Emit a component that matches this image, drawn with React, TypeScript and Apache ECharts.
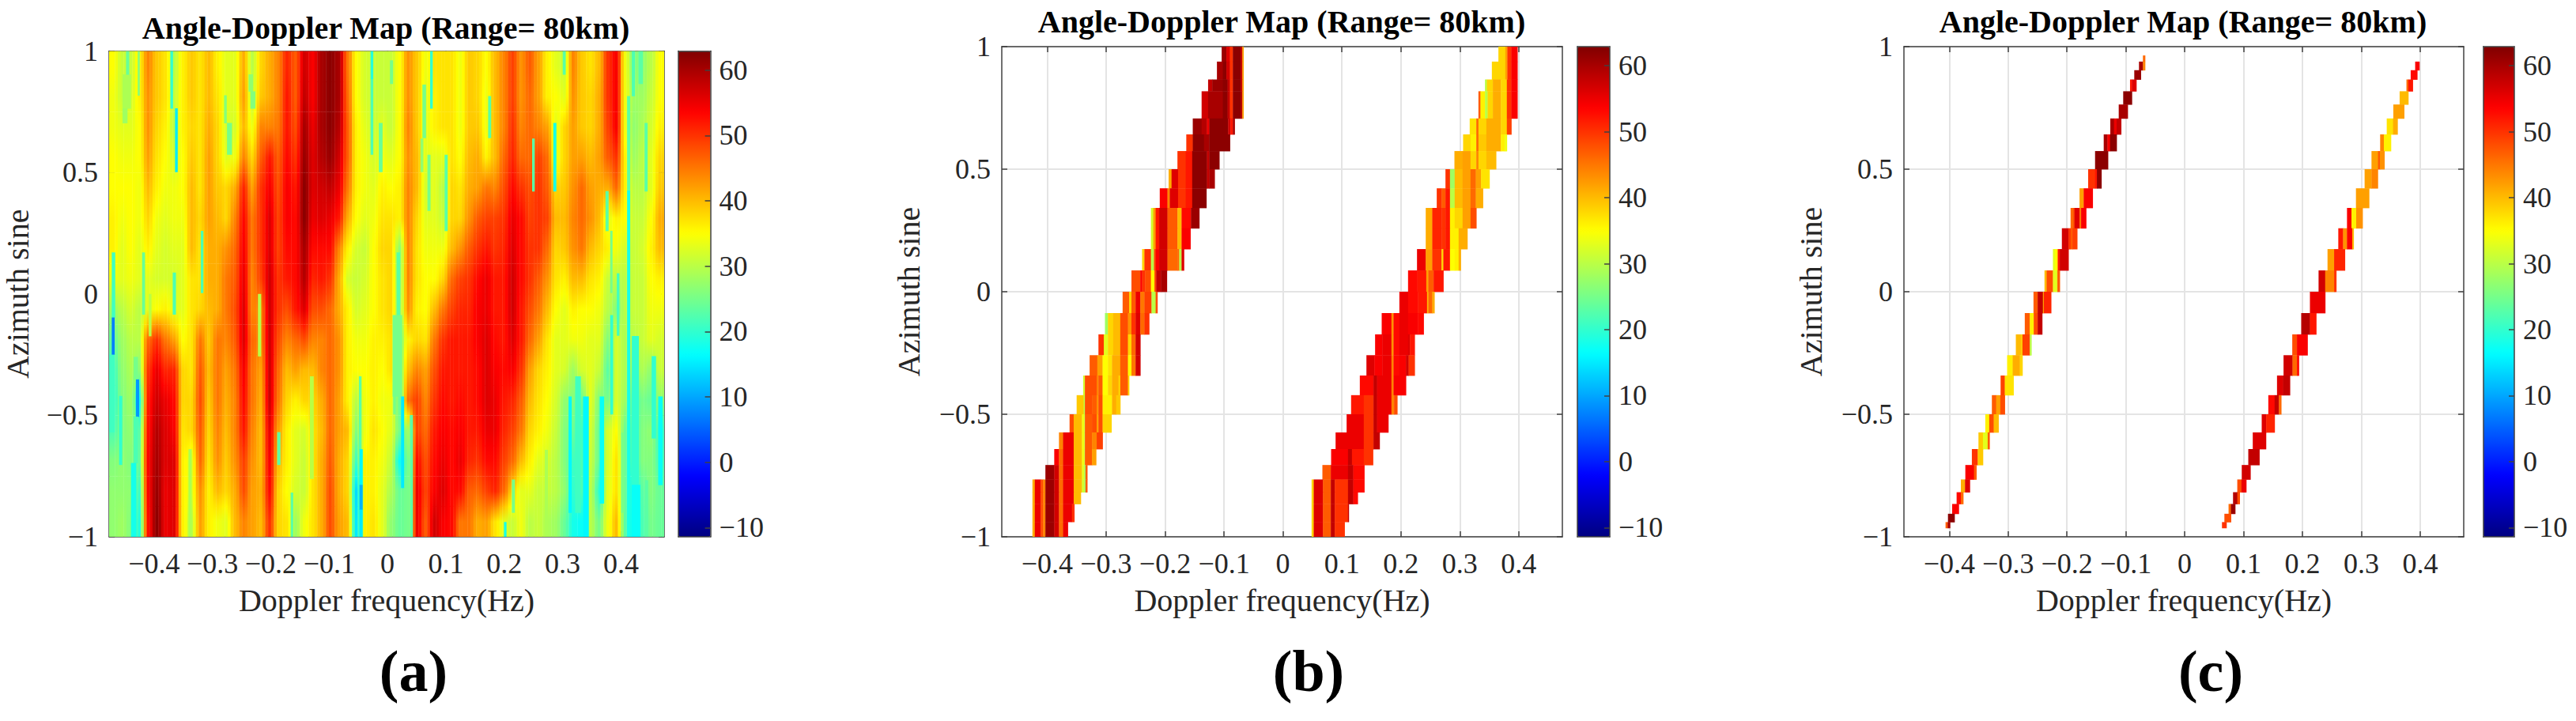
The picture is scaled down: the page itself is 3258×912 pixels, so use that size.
import React, { useEffect, useRef } from "react";
import * as echarts from "echarts";

const FONT = "'Liberation Serif', 'Times New Roman', serif";
const TITLE = "Angle-Doppler Map (Range= 80km)";
const X_NAME = "Doppler frequency(Hz)";
const Y_NAME = "Azimuth sine";
const xTicks = [-0.4, -0.3, -0.2, -0.1, 0, 0.1, 0.2, 0.3, 0.4];
const barTicks = [-10, 0, 10, 20, 30, 40, 50, 60];
const X_MIN = -0.477;
const X_MAX = 0.474;
const V_MIN = -11.4;
const V_MAX = 62.9;
const jet = ["#000080", "#0000ff", "#0080ff", "#00ffff", "#80ff80", "#ffff00", "#ff8000", "#ff0000", "#800000"];

// Panel (a): dB levels, rows from sine = 1 down to sine = -1, columns from low to high Doppler
const panelARows = [
  [35,31,31,36,44,39,37,30,36,39,37,40,36,33,33,41,30,38,41,44,51,47,57,54,60,62,60,45,35,32,31,31, 31,35,43,39,34,37,37,37,34,39,38,35,40,44,49,43,47,42,36,33,31,44,39,37,40,50,54,34,26,27,30,35],
  [34,31,32,36,43,39,37,31,36,39,37,40,37,33,33,42,31,39,41,44,52,47,58,54,60,62,60,46,35,32,31,31, 31,35,43,39,33,36,37,37,34,39,38,34,40,44,49,43,46,42,36,35,33,43,39,38,41,50,54,34,28,28,31,35],
  [34,33,33,35,43,38,36,30,36,38,37,41,38,32,32,40,34,44,44,45,52,48,60,55,60,62,59,47,36,33,31,33, 31,35,44,39,33,36,37,37,34,39,39,34,40,44,50,44,46,44,42,33,38,42,39,38,41,49,54,34,27,29,32,36],
  [35,34,34,35,42,37,35,32,35,39,37,42,38,33,34,44,38,47,52,47,53,50,61,56,59,61,57,47,36,34,32,34, 33,35,43,40,33,33,33,37,35,40,41,36,40,46,51,46,46,49,46,33,38,42,42,40,42,47,50,36,28,30,33,38],
  [35,35,35,34,40,36,34,34,35,40,37,42,39,38,41,51,42,50,54,48,54,52,62,56,57,58,55,45,36,34,33,36, 35,36,44,40,32,33,30,38,37,41,42,45,44,48,53,50,48,50,47,38,39,43,46,42,41,41,46,36,30,30,33,39],
  [36,34,35,34,38,34,33,34,34,40,38,42,40,38,44,53,45,50,56,49,54,53,62,55,56,55,52,41,35,33,34,37, 37,36,44,38,33,33,31,38,38,43,47,49,49,50,55,53,49,50,49,40,40,44,46,43,40,33,36,35,31,31,35,41],
  [36,33,35,33,36,33,32,33,33,40,37,41,41,43,46,54,45,50,56,49,53,53,60,53,53,53,44,36,32,31,35,38, 38,27,44,37,34,34,34,40,43,47,50,52,50,51,56,53,50,50,46,38,39,43,45,40,38,36,34,32,31,32,36,40],
  [34,33,34,33,33,32,32,32,33,37,37,41,41,45,47,55,44,49,57,50,52,53,59,51,52,50,41,32,31,32,35,37, 38,27,44,37,35,35,38,46,49,50,53,55,52,52,57,53,50,47,43,37,36,40,40,37,36,31,30,30,31,31,35,36],
  [28,30,32,30,33,35,36,33,33,37,38,40,41,45,48,56,44,44,57,50,48,52,56,48,48,46,41,36,32,33,35,37, 38,28,43,36,35,40,45,49,51,51,54,55,52,52,57,52,48,45,40,35,33,36,35,35,34,30,26,30,31,31,34,34],
  [24,28,30,30,46,50,45,42,35,37,45,39,45,44,47,56,46,44,57,48,44,46,48,44,44,46,43,36,34,34,36,36, 37,26,36,38,37,45,50,52,52,52,54,56,53,52,56,52,46,42,37,33,33,34,34,33,33,26,32,29,30,31,33,32],
  [21,27,29,27,50,55,51,51,38,37,47,40,45,42,45,54,45,42,57,46,40,42,40,40,44,46,43,36,35,35,36,35, 37,27,40,44,42,48,52,52,52,52,53,56,54,53,54,50,42,38,36,33,32,28,32,33,31,23,32,29,27,29,27,31],
  [20,26,28,18,52,57,55,53,38,38,48,39,45,41,44,53,45,41,57,45,38,36,38,38,41,46,42,36,30,34,36,34, 34,24,46,49,44,50,53,52,53,52,53,56,55,52,51,47,40,37,35,32,27,26,24,33,26,25,32,28,22,25,24,27],
  [22,26,27,23,53,59,56,54,37,38,47,38,44,40,44,52,44,40,55,42,36,33,32,37,40,46,42,40,26,34,37,35, 33,25,28,49,46,52,54,53,54,52,52,55,55,51,49,45,38,36,34,31,26,24,21,32,24,32,35,24,21,26,27,21],
  [26,27,26,24,54,60,56,56,36,33,46,37,43,39,43,49,43,40,54,40,36,33,31,37,41,47,41,38,21,36,36,34, 31,17,25,53,48,53,55,53,55,51,50,53,53,49,46,40,36,33,32,30,26,21,22,31,24,32,37,24,20,26,26,22],
  [27,27,27,21,54,61,55,56,36,33,43,36,40,38,41,48,42,41,53,38,35,32,31,37,41,48,41,38,14,36,36,33, 29,24,25,55,49,54,56,53,53,47,46,49,51,46,38,33,33,31,31,30,27,20,22,30,20,33,37,24,17,23,26,24],
  [27,28,26,19,53,62,55,56,36,30,42,36,34,33,40,44,42,40,50,38,37,28,34,37,41,48,42,40,15,36,37,33, 27,24,25,55,47,57,54,53,45,45,41,42,37,33,31,34,30,31,29,28,24,18,17,30,25,34,40,23,16,22,25,24],
];

// Panel (a): narrow dips [fromHz, toHz, sineTop, sineBottom, dB]
const panelADips = [
  [-0.454,-0.440,0.904,0.764,29],[-0.454,-0.446,0.764,0.704,28],[-0.448,-0.443,1,0.904,24],[-0.428,-0.425,1,0.818,26],
  [-0.372,-0.368,1,0.764,20],[-0.364,-0.360,0.764,0.503,15],[-0.280,-0.276,0.818,0.704,26],[-0.275,-0.267,0.704,0.574,25],
  [-0.238,-0.231,0.904,0.834,27],[-0.235,-0.227,0.834,0.764,26],[-0.029,-0.025,1,0.885,19],[-0.029,-0.025,0.885,0.574,22],
  [-0.015,-0.009,0.704,0.503,24],[-0.320,-0.316,0.26,0.005,22],[-0.4725,-0.467,0.171,-0.097,21],[-0.4725,-0.468,-0.097,-0.25,7],
  [-0.477,-0.468,-0.25,-0.569,21],[-0.4205,-0.416,0.171,-0.084,24],[-0.409,-0.405,0,-0.173,30],[-0.368,-0.363,0.088,-0.084,22],
  [-0.435,-0.428,-0.259,-0.352,25],[-0.431,-0.426,-0.352,-0.505,9],[-0.435,-0.428,-0.505,-0.696,22],[-0.460,-0.455,-0.42,-0.703,20],
  [-0.4395,-0.431,-0.696,-1,18],[-0.341,-0.336,-0.639,-1,29],[-0.222,-0.217,0,-0.256,30],[-0.189,-0.184,-0.569,-0.703,23],
  [-0.133,-0.127,-0.339,-0.76,30],[-0.166,-0.162,-0.818,-1,23],[-0.049,-0.045,-0.339,-0.639,23],[-0.048,-0.043,-0.639,-0.786,16],
  [-0.048,-0.043,-0.786,-0.888,11],[-0.048,-0.043,-0.888,-1,15],
  [0.0042,0.009,0.962,0.866,25],[0.073,0.077,1,0.764,20],[0.0598,0.0655,0.862,0.643,25],[0.0565,0.061,0.64,0.503,27],
  [0.0684,0.0732,0.573,0.343,25],[0.0978,0.1026,0.573,0.26,23],[0.1724,0.1771,0.815,0.643,23],[0.2478,0.2517,0.64,0.423,23],
  [0.284,0.2888,0.704,0.423,18],[0.3002,0.3047,1,0.904,23],[0.3735,0.3783,0.423,0.26,23],[0.3816,0.385,0.26,0.005,25],
  [0.3929,0.3968,0.085,-0.171,21],[0.4105,0.4153,0.815,0.426,23],[0.4105,0.4153,0.426,-1,18],[0.4186,0.4234,1,0.815,22],
  [0.430,0.437,1,0.866,23],[0.4404,0.4451,0.704,0.423,23],[0.0156,0.0212,0.171,-0.087,23],[0.0087,0.0245,-0.087,-0.422,25],
  [0.0097,0.0136,-0.339,-0.495,25],[0.0232,0.028,-0.422,-0.798,15],[0.0382,0.043,-0.499,-1,23],[0.213,0.2178,-0.764,-0.9,25],
  [0.1995,0.2034,-0.939,-1,18],[0.2695,0.2743,-0.642,-1,29],[0.3102,0.315,-0.422,-0.9,16],[0.3215,0.3308,-0.339,-0.9,21],
  [0.335,0.3443,-0.422,-1,16],[0.3635,0.3706,-0.422,-0.862,17],[0.3816,0.386,-0.087,-0.495,20],[0.4006,0.4054,-0.571,-0.9,25],
  [0.4186,0.4302,-0.173,-0.786,20],[0.4186,0.4325,-0.786,-1,17],[0.4412,0.446,-0.767,-1,23],[0.4525,0.4596,-0.256,-0.594,20],
  [0.4638,0.4709,-0.422,-0.786,17],
];

// Panel (b): row edges in sine, top to bottom
const panelBEdges = [1,0.939,0.866,0.818,0.707,0.642,0.574,0.5,0.422,0.342,0.259,0.174,0.087,0,-0.087,-0.174,-0.259,-0.342,-0.422,-0.5,-0.574,-0.642,-0.707,-0.766,-0.818,-0.866,-0.939,-1];

// Each row: Hz edge, dB, Hz edge, dB, ..., final Hz edge
const panelBLeft = [
  [-0.104,61,-0.096,56,-0.090,50,-0.085,62,-0.072,58,-0.069,42,-0.067],
  [-0.112,60,-0.102,62,-0.096,57,-0.090,50,-0.085,62,-0.072,58,-0.069,42,-0.067],
  [-0.127,58,-0.120,61,-0.102,62,-0.094,58,-0.090,50,-0.085,62,-0.072,58,-0.069,42,-0.067],
  [-0.138,57,-0.127,60,-0.102,62,-0.094,58,-0.090,50,-0.085,62,-0.072,59,-0.069,42,-0.067],
  [-0.153,61,-0.138,59,-0.129,55,-0.125,62,-0.102,62,-0.093,57,-0.089,52,-0.085,60,-0.082],
  [-0.164,50,-0.153,62,-0.134,60,-0.125,62,-0.090],
  [-0.179,50,-0.165,52,-0.154,62,-0.129,58,-0.125,62,-0.108],
  [-0.194,41,-0.189,56,-0.178,50,-0.165,52,-0.154,62,-0.129,58,-0.125,60,-0.116],
  [-0.209,54,-0.196,44,-0.192,56,-0.178,50,-0.165,52,-0.154,62,-0.130],
  [-0.224,32,-0.220,42,-0.216,52,-0.210,57,-0.196,47,-0.179,40,-0.172,53,-0.156,61,-0.142],
  [-0.224,32,-0.220,42,-0.216,52,-0.210,57,-0.196,47,-0.179,40,-0.172,54,-0.157],
  [-0.239,38,-0.235,50,-0.224,30,-0.219,48,-0.216,54,-0.210,57,-0.196,46,-0.179,46,-0.176,30,-0.172,56,-0.168],
  [-0.257,48,-0.242,54,-0.239,50,-0.234,48,-0.224,35,-0.218,49,-0.215,58,-0.207,60,-0.197],
  [-0.272,47,-0.261,38,-0.257,47,-0.250,55,-0.242,45,-0.235,49,-0.223,30,-0.216,48,-0.213],
  [-0.302,28,-0.297,38,-0.288,40,-0.276,48,-0.263,43,-0.257,50,-0.250,56,-0.242,46,-0.235,50,-0.227],
  [-0.313,50,-0.304,33,-0.297,38,-0.288,40,-0.276,48,-0.263,38,-0.257,46,-0.250,57,-0.242],
  [-0.328,47,-0.315,42,-0.306,35,-0.297,37,-0.290,41,-0.276,47,-0.263,35,-0.257,45,-0.250,57,-0.242],
  [-0.339,32,-0.336,48,-0.316,44,-0.313,47,-0.306,35,-0.297,38,-0.290,41,-0.279,38,-0.276,47,-0.263,38,-0.261],
  [-0.350,39,-0.338,30,-0.336,48,-0.324,47,-0.316,43,-0.313,48,-0.306,36,-0.290,41,-0.283,39,-0.276],
  [-0.362,48,-0.355,40,-0.341,34,-0.337,30,-0.336,47,-0.324,48,-0.316,42,-0.313,48,-0.306,38,-0.291],
  [-0.380,44,-0.373,55,-0.355,40,-0.341,34,-0.337,30,-0.336,47,-0.324,44,-0.316,49,-0.306],
  [-0.388,54,-0.380,46,-0.373,55,-0.355,40,-0.341,34,-0.337,30,-0.336,47,-0.324,42,-0.317],
  [-0.403,61,-0.388,57,-0.380,46,-0.373,55,-0.355,40,-0.341,33,-0.337,28,-0.335,47,-0.332],
  [-0.425,41,-0.421,55,-0.411,48,-0.407,44,-0.403,61,-0.388,57,-0.380,46,-0.373,55,-0.355,40,-0.341,32,-0.337,28,-0.335,47,-0.332],
  [-0.425,41,-0.421,55,-0.411,48,-0.407,44,-0.403,61,-0.388,57,-0.380,46,-0.373,55,-0.355,40,-0.343],
  [-0.425,41,-0.421,55,-0.411,48,-0.407,44,-0.403,61,-0.388,57,-0.380,46,-0.373,55,-0.358,50,-0.354],
  [-0.425,41,-0.421,55,-0.411,48,-0.407,44,-0.403,61,-0.388,57,-0.380,46,-0.373,55,-0.365],
];

const panelBRight = [
  [0.3655,38,0.3772,42,0.3807,50,0.3874,54,0.3977],
  [0.3544,38,0.3772,42,0.3807,50,0.3874,54,0.3977],
  [0.3427,30,0.3459,38,0.3561,41,0.3696,38,0.3798,50,0.3874,54,0.3977],
  [0.3316,47,0.3351,36,0.3427,30,0.3472,38,0.3561,41,0.3696,38,0.3798,50,0.3874,54,0.3977],
  [0.3168,37,0.328,46,0.3316,38,0.345,41,0.3696,38,0.3798,49,0.3874],
  [0.3056,38,0.3182,36,0.328,46,0.3316,39,0.345,41,0.3696,36,0.3763,34,0.3798],
  [0.2909,41,0.3047,42,0.3182,38,0.328,44,0.3316,38,0.345,40,0.3615],
  [0.2757,50,0.2833,28,0.2913,40,0.3047,42,0.3182,46,0.3271,42,0.336,37,0.3503],
  [0.2609,50,0.269,47,0.2757,52,0.2833,30,0.2913,40,0.3047,42,0.3182,46,0.3271,41,0.3392],
  [0.2422,41,0.2533,51,0.269,50,0.2757,52,0.2833,36,0.2913,38,0.3047,42,0.3182,48,0.328],
  [0.2422,41,0.2533,51,0.269,50,0.2757,52,0.2833,36,0.2913,36,0.298,41,0.3128],
  [0.2274,55,0.2422,42,0.2533,50,0.269,38,0.2721,52,0.2833,35,0.2913,36,0.298,41,0.3016],
  [0.2122,53,0.2279,52,0.2431,42,0.2466,47,0.2556,52,0.2721],
  [0.1975,55,0.2122,53,0.2287,52,0.2444,40,0.2466,46,0.2533,41,0.2569],
  [0.1675,54,0.184,43,0.1876,53,0.1975,55,0.2122,54,0.2287,53,0.2386],
  [0.1563,54,0.1684,55,0.184,43,0.1876,53,0.1975,55,0.2122,56,0.2153,52,0.2234],
  [0.1416,56,0.155,54,0.1684,55,0.184,44,0.1876,53,0.1975,54,0.2086,57,0.2131,50,0.2234],
  [0.1304,53,0.1536,58,0.1595,55,0.184,44,0.1876,54,0.2086],
  [0.1156,52,0.1371,50,0.1536,58,0.1595,55,0.184,44,0.1885,48,0.1939],
  [0.108,55,0.1371,50,0.1536,58,0.1595,55,0.1787],
  [0.0893,55,0.1371,50,0.1536,58,0.1639],
  [0.0817,54,0.1103,58,0.117,52,0.1371,50,0.1527],
  [0.0669,47,0.0812,55,0.1103,58,0.1192,53,0.138],
  [0.0486,38,0.0522,56,0.0678,47,0.0812,58,0.0879,50,0.1103,58,0.1192,53,0.138],
  [0.0486,38,0.0522,56,0.0678,47,0.0812,58,0.0879,50,0.1103,58,0.1192,53,0.1268],
  [0.0486,38,0.0522,56,0.0678,47,0.0812,58,0.0879,50,0.1103,58,0.1116],
  [0.0486,38,0.0522,56,0.0678,47,0.0812,58,0.0879,50,0.1045],
];

// Panel (c): row edges in sine, top to bottom
const panelCEdges = [0.964,0.939,0.904,0.866,0.818,0.764,0.707,0.642,0.574,0.5,0.422,0.342,0.259,0.174,0.087,0,-0.087,-0.174,-0.259,-0.342,-0.422,-0.5,-0.574,-0.642,-0.707,-0.766,-0.818,-0.866,-0.906,-0.94,-0.964];

const panelCLeft = [
  [-0.071,46,-0.0674],
  [-0.0777,60,-0.071,44,-0.0674],
  [-0.0857,61,-0.0746],
  [-0.0929,52,-0.0898,56,-0.0822],
  [-0.1045,62,-0.0898],
  [-0.1121,60,-0.0969],
  [-0.1264,60,-0.1202,55,-0.1157,58,-0.1081],
  [-0.1376,60,-0.1313,54,-0.1269,62,-0.1157],
  [-0.1523,62,-0.1304],
  [-0.164,50,-0.1523,52,-0.1492,62,-0.1416],
  [-0.1787,42,-0.1716,54,-0.1564],
  [-0.1939,46,-0.1895,48,-0.1872,56,-0.1787,45,-0.176,54,-0.1675],
  [-0.2087,57,-0.1975,50,-0.1939,47,-0.1908,49,-0.1827],
  [-0.2239,33,-0.2207,35,-0.2158,52,-0.2123,57,-0.1975],
  [-0.2382,40,-0.2346,48,-0.2239,33,-0.2163,47,-0.2123],
  [-0.2569,47,-0.2498,58,-0.2409,40,-0.2395,51,-0.227],
  [-0.2717,47,-0.2632,36,-0.2565,48,-0.2498,58,-0.2422],
  [-0.2869,40,-0.2775,38,-0.2757,49,-0.2632,30,-0.2605],
  [-0.3017,36,-0.2923,41,-0.2802,38,-0.2757],
  [-0.3128,49,-0.3057,37,-0.2909],
  [-0.3276,47,-0.3204,42,-0.3133,48,-0.3057],
  [-0.3388,36,-0.3321,48,-0.3245,40,-0.3164],
  [-0.3504,39,-0.3428,33,-0.3347,47,-0.3316],
  [-0.3616,50,-0.3517,39,-0.3428],
  [-0.3727,54,-0.358,47,-0.354],
  [-0.3803,41,-0.3732,56,-0.3651],
  [-0.3875,53,-0.3803,46,-0.3763],
  [-0.3951,54,-0.3839],
  [-0.4022,62,-0.3911],
  [-0.4063,47,-0.4027,60,-0.3987],
];

const panelCRight = [
  [],
  [0.3915,54,0.3986],
  [0.3839,53,0.395],
  [0.3767,46,0.3798,52,0.3874],
  [0.3651,40,0.3798],
  [0.3544,42,0.3727],
  [0.3432,37,0.3539,41,0.3615],
  [0.332,44,0.3383,36,0.3503],
  [0.3173,42,0.3284,47,0.3316,43,0.3392],
  [0.3056,42,0.3173,44,0.328],
  [0.2909,42,0.3132],
  [0.2757,54,0.2833,36,0.2913,43,0.3021],
  [0.2609,52,0.269,43,0.2757,54,0.2846,40,0.2869],
  [0.2426,42,0.2538,51,0.2721],
  [0.2274,57,0.2386,44,0.2538,50,0.2574],
  [0.2127,55,0.2386],
  [0.1979,59,0.2127,52,0.2234],
  [0.1827,48,0.1907,54,0.2086],
  [0.1679,57,0.1831,46,0.1907,53,0.1939],
  [0.1568,56,0.1671,58,0.1787],
  [0.142,53,0.1527,58,0.1599,46,0.1639],
  [0.1308,56,0.1384,51,0.1527],
  [0.1156,56,0.138],
  [0.108,58,0.1268],
  [0.0969,57,0.1116],
  [0.0893,48,0.0964,55,0.1045],
  [0.0821,59,0.0893,48,0.0933],
  [0.0745,46,0.0785,61,0.0857],
  [0.0674,48,0.0785],
  [0.0633,50,0.0709],
];

type Cell = [number, number, number, number, number];

function rowsToCells(edges: number[], rows: number[][]): Cell[] {
  const cells: Cell[] = [];
  rows.forEach((row, r) => {
    for (let i = 0; i + 2 < row.length; i += 2) {
      cells.push([row[i], row[i + 2], edges[r], edges[r + 1], row[i + 1]]);
    }
  });
  return cells;
}

const N_ROWS = panelARows.length;
const N_COLS = panelARows[0].length;

function panelACells(): Cell[] {
  const cells: Cell[] = [];
  const dx = (X_MAX - X_MIN) / N_COLS;
  const dy = 2 / N_ROWS;
  panelARows.forEach((row, r) => {
    row.forEach((v, c) => {
      cells.push([X_MIN + c * dx, X_MIN + (c + 1) * dx, 1 - r * dy, 1 - (r + 1) * dy, v]);
    });
  });
  panelADips.forEach((d) => cells.push(d as Cell));
  return cells;
}

const fmt = (v: number) => String(v).replace("-", "\u2212");

const INK = "#262626";
const LINE = "#404040";

interface Layout {
  left: number; right: number; top: number; bottom: number;
  barLeft: number; barRight: number;
  titleX: number; titleY: number; tagX: number; tag: string;
  yGap: number; showSplit: boolean;
  cells: Cell[];
}

const H_TOP_B = 59;
const panels: Layout[] = [
  { left: 138, right: 840, top: 64.6, bottom: 679, barLeft: 858, barRight: 898.6, titleX: 488, titleY: 15, tagX: 523, tag: "a", yGap: 96, showSplit: false, cells: panelACells() },
  { left: 1267, right: 1976, top: H_TOP_B, bottom: 679, barLeft: 1995, barRight: 2036, titleX: 1621, titleY: 7, tagX: 1655, tag: "b", yGap: 98, showSplit: true, cells: [...rowsToCells(panelBEdges, panelBLeft), ...rowsToCells(panelBEdges, panelBRight)] },
  { left: 2408, right: 3116, top: H_TOP_B, bottom: 679, barLeft: 3140.7, barRight: 3180, titleX: 2761, titleY: 7, tagX: 2796, tag: "c", yGap: 98, showSplit: true, cells: [...rowsToCells(panelCEdges, panelCLeft), ...rowsToCells(panelCEdges, panelCRight)] },
];

const W = 3258;
const HEIGHT = 912;

function renderCell(_params: any, api: any) {
  const p0 = api.coord([api.value(0), api.value(2)]);
  const p1 = api.coord([api.value(1), api.value(3)]);
  return {
    type: "rect",
    shape: { x: p0[0], y: p0[1], width: p1[0] - p0[0] + 0.4, height: p1[1] - p0[1] + 0.4 },
    style: { fill: api.visual("color") },
  };
}

// Panel (a) is shaded like MATLAB's "interp": same jet scale as the visualMap, blended across each cell.
const SUBCOLS = 3;
const jetColor = (v: number) => echarts.color.lerp(Math.max(0, Math.min(1, (v - V_MIN) / (V_MAX - V_MIN))), jet) as string;
const at = (r: number, c: number) =>
  panelARows[Math.max(0, Math.min(N_ROWS - 1, r))][Math.max(0, Math.min(N_COLS - 1, c))];

function atX(r: number, c: number, f: number) {
  const raw = f < 0.5 ? f + 0.5 : f - 0.5;
  const t = raw * raw * (3 - 2 * raw);
  const a = f < 0.5 ? at(r, c - 1) : at(r, c);
  const b = f < 0.5 ? at(r, c) : at(r, c + 1);
  return a + (b - a) * t;
}

function renderShaded(params: any, api: any) {
  const idx = params.dataIndex;
  if (idx >= N_ROWS * N_COLS) return renderCell(params, api);
  const r = Math.floor(idx / N_COLS);
  const c = idx % N_COLS;
  const p0 = api.coord([api.value(0), api.value(2)]);
  const p1 = api.coord([api.value(1), api.value(3)]);
  const w = (p1[0] - p0[0]) / SUBCOLS;
  const h = p1[1] - p0[1];
  const children: any[] = [];
  for (let k = 0; k < SUBCOLS; k++) {
    const f = (k + 0.5) / SUBCOLS;
    const mid = atX(r, c, f);
    const top = r === 0 ? mid : (atX(r - 1, c, f) + mid) / 2;
    const bot = r === N_ROWS - 1 ? mid : (atX(r + 1, c, f) + mid) / 2;
    children.push({
      type: "rect",
      shape: { x: p0[0] + k * w, y: p0[1], width: w + 0.4, height: h + 0.4 },
      style: {
        fill: new echarts.graphic.LinearGradient(0, 0, 0, 1, [
          { offset: 0, color: jetColor(top) },
          { offset: 0.5, color: jetColor(mid) },
          { offset: 1, color: jetColor(bot) },
        ]),
      },
    });
  }
  return { type: "group", children };
}

function buildOption() {
  const grid: any[] = [];
  const xAxis: any[] = [];
  const yAxis: any[] = [];
  const series: any[] = [];
  const visualMap: any[] = [];
  const title: any[] = [];

  panels.forEach((p, idx) => {
    const g = grid.length;
    grid.push({ left: p.left, top: p.top, width: p.right - p.left, height: p.bottom - p.top });
    const tick = { show: true, inside: true, length: 7, lineStyle: { color: LINE, width: 1.5 } };
    const line = { show: true, onZero: false, lineStyle: { color: LINE, width: 1.5 } };
    const split = { show: p.showSplit, lineStyle: { color: "#e4e4e4", width: 2 } };

    const xIndex = xAxis.length;
    xAxis.push({
      type: "value", gridIndex: g, position: "bottom", min: X_MIN, max: X_MAX, z: 1,
      name: X_NAME, nameLocation: "middle", nameGap: 60,
      nameTextStyle: { fontFamily: FONT, fontSize: 40, color: INK },
      axisLine: line,
      axisTick: { ...tick, customValues: xTicks },
      axisLabel: { customValues: xTicks, formatter: fmt, fontFamily: FONT, fontSize: 36, color: INK, margin: 16 },
      splitLine: split,
    });
    xAxis.push({
      type: "value", gridIndex: g, position: "top", min: X_MIN, max: X_MAX, z: 1,
      axisLine: line, axisTick: { ...tick, customValues: xTicks },
      axisLabel: { show: false }, splitLine: { show: false },
    });
    const yIndex = yAxis.length;
    yAxis.push({
      type: "value", gridIndex: g, position: "left", min: -1, max: 1, interval: 0.5, z: 1,
      name: Y_NAME, nameLocation: "middle", nameGap: p.yGap, nameRotate: 90,
      nameTextStyle: { fontFamily: FONT, fontSize: 40, color: INK },
      axisLine: line, axisTick: tick,
      axisLabel: { formatter: fmt, fontFamily: FONT, fontSize: 36, color: INK, margin: 14 },
      splitLine: split,
    });
    yAxis.push({
      type: "value", gridIndex: g, position: "right", min: -1, max: 1, interval: 0.5, z: 1,
      axisLine: line, axisTick: tick, axisLabel: { show: false }, splitLine: { show: false },
    });

    series.push({
      type: "custom", xAxisIndex: xIndex, yAxisIndex: yIndex, coordinateSystem: "cartesian2d",
      renderItem: idx === 0 ? renderShaded : renderCell, clip: true, silent: true,
      dimensions: ["x0", "x1", "y0", "y1", "v"],
      encode: { x: [0, 1], y: [2, 3] },
      data: p.cells,
    });

    visualMap.push({
      type: "continuous", seriesIndex: idx, dimension: 4, min: V_MIN, max: V_MAX,
      left: p.barLeft, top: p.top, itemWidth: p.barRight - p.barLeft, itemHeight: p.bottom - p.top,
      padding: 0, calculable: false, showLabel: false, text: null, hoverLink: false,
      inRange: { color: jet },
    });

    // Colour bar scale
    const gb = grid.length;
    grid.push({ left: p.barLeft, top: p.top, width: p.barRight - p.barLeft, height: p.bottom - p.top });
    const blank = { type: "value", gridIndex: gb, min: 0, max: 1, z: 10, axisLine: line, axisTick: { show: false }, axisLabel: { show: false }, splitLine: { show: false } };
    xAxis.push({ ...blank, position: "bottom" });
    xAxis.push({ ...blank, position: "top" });
    yAxis.push({ ...blank, position: "left", min: V_MIN, max: V_MAX });
    yAxis.push({
      type: "value", gridIndex: gb, position: "right", min: V_MIN, max: V_MAX, z: 10,
      axisLine: line,
      axisTick: { show: true, inside: true, length: 7, lineStyle: { color: LINE, width: 1.5 }, customValues: barTicks },
      axisLabel: { customValues: barTicks, formatter: fmt, fontFamily: FONT, fontSize: 36, color: INK, margin: 11 },
      splitLine: { show: false },
    });

    title.push({
      text: TITLE, left: p.titleX, top: p.titleY, textAlign: "center", padding: 0,
      textStyle: { fontFamily: FONT, fontSize: 40, fontWeight: "bold", color: "#000" },
    });
    title.push({
      text: `{p|(}{b|${p.tag}}{p|)}`, left: p.tagX, top: 812, textAlign: "center", padding: 0,
      textStyle: {
        rich: {
          p: { fontFamily: FONT, fontSize: 74, color: "#000" },
          b: { fontFamily: FONT, fontSize: 74, fontWeight: "bold", color: "#000" },
        },
      },
    });
  });

  return { animation: false, backgroundColor: "#fff", title, grid, xAxis, yAxis, visualMap, series };
}

export default function App() {
  const ref = useRef<HTMLDivElement | null>(null);
  useEffect(() => {
    if (!ref.current) return;
    const chart = echarts.init(ref.current, undefined, { renderer: "svg" });
    chart.setOption(buildOption() as any);
    return () => chart.dispose();
  }, []);
  return <div ref={ref} style={{ position: "fixed", left: 0, top: 0, width: W, height: HEIGHT, background: "#fff" }} />;
}
